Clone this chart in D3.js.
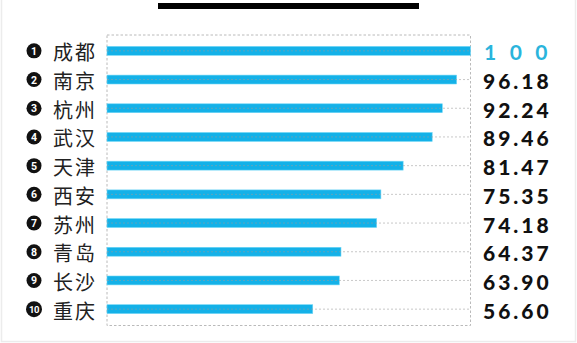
<!DOCTYPE html>
<html><head><meta charset="utf-8">
<script src="https://cdn.jsdelivr.net/npm/d3@7"></script>
<style>
html,body{margin:0;padding:0;background:#fff;}
svg{display:block;}
</style></head>
<body>
<script>
const cities = ["成都","南京","杭州","武汉","天津","西安","苏州","青岛","长沙","重庆"];
const ranks = ["1","2","3","4","5","6","7","8","9","10"];
const values = [100, 96.18, 92.24, 89.46, 81.47, 75.35, 74.18, 64.37, 63.90, 56.60];
const valueLabels = ["100","96.18","92.24","89.46","81.47","75.35","74.18","64.37","63.90","56.60"];

const W = 577, H = 343;
const svg = d3.select("body").append("svg").attr("width", W).attr("height", H);

// outer faint border
svg.append("rect").attr("x",1.5).attr("y",-1).attr("width",W-3).attr("height",H-0.5)
  .attr("fill","#fff").attr("stroke","#ececec").attr("stroke-width",1.5);

// top black title bar
svg.append("rect").attr("x",158).attr("y",3).attr("width",261).attr("height",6).attr("fill","#000");

const x = d3.scaleLinear().domain([0,100]).range([107,470.5]);
const y = d3.scaleBand().domain(cities).range([36.5,323.5]).paddingInner(0.69).paddingOuter(0.345);

// dashed frame
const fx0 = x(0), fx1 = x(100), fy0 = 35, fy1 = 325.5;
svg.append("rect").attr("x",fx0).attr("y",fy0).attr("width",fx1-fx0).attr("height",fy1-fy0)
  .attr("fill","none").attr("stroke","#a8a8a8").attr("stroke-width",0.8).attr("stroke-dasharray","2.5,2");

const rows = svg.selectAll("g.row").data(cities).enter().append("g").attr("class","row");
const cy = (d)=> y(d) + y.bandwidth()/2;

// bars
rows.append("rect")
  .attr("x", x(0)).attr("y", d=>y(d))
  .attr("width", (d,i)=> x(values[i]) - x(0))
  .attr("height", y.bandwidth())
  .attr("fill","#14b1e8").attr("stroke","#6fd6f5").attr("stroke-width",0.6);

// dotted guide line across the row
rows.append("line")
  .attr("x1", x(0)).attr("x2", x(100))
  .attr("y1", d=>cy(d)).attr("y2", d=>cy(d))
  .attr("stroke","#9a9a9a").attr("stroke-width",1).attr("stroke-dasharray","2,2")
  .attr("stroke-opacity",0.55);

// rank circles
rows.append("circle").attr("cx",34).attr("cy",d=>cy(d)).attr("r",(d,i)=> i===9?8:7.5).attr("fill","#111");
rows.append("text").attr("x",34).attr("y",d=>cy(d)+0.5)
  .attr("text-anchor","middle").attr("dominant-baseline","central")
  .attr("font-family","Roboto, 'DejaVu Sans', sans-serif").attr("font-weight",700)
  .attr("font-size",(d,i)=> i===9?9.5:10.5).attr("letter-spacing",(d,i)=> i===9?-0.5:0).attr("fill","#fff")
  .text((d,i)=>ranks[i]);

// city names
rows.append("text").attr("x",53).attr("y",d=>cy(d)+1)
  .attr("dominant-baseline","central")
  .attr("font-family","'Noto Sans CJK SC', sans-serif").attr("font-weight",400)
  .attr("font-size",20).attr("letter-spacing",2).attr("fill","#222")
  .text(d=>d);

// value labels
rows.append("text").attr("x",(d,i)=> i===0?484:483).attr("y",d=>cy(d)+1)
  .attr("dominant-baseline","central")
  .attr("font-family","Lato, 'Open Sans', sans-serif")
  .attr("font-weight",(d,i)=> i===0?700:900)
  .attr("font-size",21)
  .attr("letter-spacing",(d,i)=> i===0?13.5:3)
  .attr("fill",(d,i)=> i===0?"#2ab4dc":"#111")
  .text((d,i)=>valueLabels[i]);
</script>
</body></html>
